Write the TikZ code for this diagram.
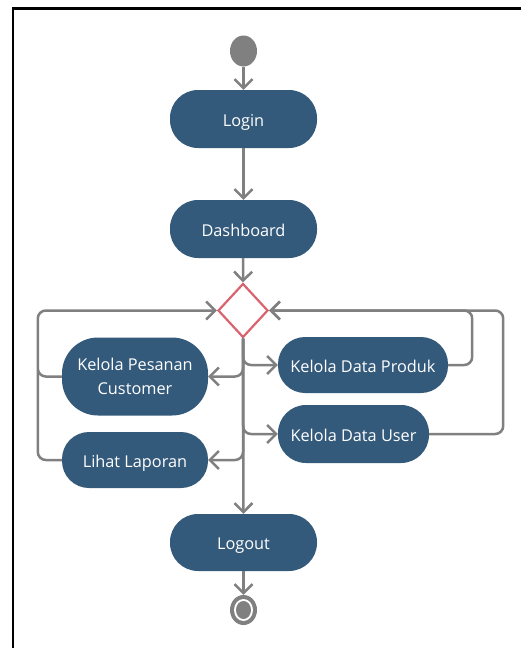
\documentclass[tikz,border=0pt]{standalone}
\usepackage{fontspec}
\setmainfont{Open Sans}
\usetikzlibrary{arrows.meta,shapes.geometric}
\definecolor{nodeblue}{HTML}{345A7B}
\definecolor{linegray}{HTML}{808080}
\definecolor{diared}{HTML}{D9636E}
\begin{document}
\begin{tikzpicture}[x=1pt,y=-1pt,
  act/.style={rectangle, fill=nodeblue, draw=none, text=white, font=\fontsize{16.3}{24.5}\selectfont, align=center, inner sep=0pt},
  oneline/.style={text height=14pt, text depth=0pt},
  conn/.style={draw=linegray, line width=2.5pt, -{Straight Barb[length=9pt,width=18pt,line width=2.5pt]}},
  plain/.style={draw=linegray, line width=2.5pt},
]
\useasboundingbox (0,0) rectangle (521,648);
\fill[white] (0,0) rectangle (521,648);
\draw[black, line width=2.6pt] (12.8,648) -- (12.8,8.7) -- (521,8.7);

\node[ellipse, fill=linegray, minimum width=27pt, minimum height=31pt, inner sep=0pt] (start) at (243.5,51) {};
\node[act, oneline, minimum width=147pt, minimum height=58pt, rounded corners=28pt] (login) at (243.5,119) {Login};
\node[act, oneline, minimum width=147pt, minimum height=58pt, rounded corners=28pt] (dash) at (243.5,229) {Dashboard};
\node[diamond, draw=diared, fill=white, line width=2.2pt, minimum width=50pt, minimum height=54pt, inner sep=0pt] (dia) at (243,310.5) {};
\node[act, minimum width=146pt, minimum height=78pt, rounded corners=36pt] (pes) at (135,376.5) {Kelola Pesanan\\Customer};
\node[act, oneline, minimum width=146pt, minimum height=56pt, rounded corners=27pt] (lap) at (135,460) {Lihat Laporan};
\node[act, oneline, minimum width=170pt, minimum height=56pt, rounded corners=27pt] (prod) at (363,365) {Kelola Data Produk};
\node[act, oneline, minimum width=151pt, minimum height=58pt, rounded corners=28pt] (user) at (353.5,434) {Kelola Data User};
\node[act, oneline, minimum width=147pt, minimum height=57pt, rounded corners=28pt] (logout) at (243.5,542.5) {Logout};
\node[ellipse, fill=linegray, minimum width=27pt, minimum height=30pt, inner sep=0pt] (endn) at (243.5,610) {};
\fill[white] (endn.center) ellipse [x radius=9.5pt, y radius=11pt];
\fill[linegray] (endn.center) ellipse [x radius=7.5pt, y radius=9pt];

\draw[conn] (start) -- (login);
\draw[conn] (login) -- (dash);
\draw[conn] (dash) -- (dia.north);
\draw[conn] (dia.south) -- (logout.north);
\draw[conn] (logout) -- (endn);

\draw[conn, rounded corners=8pt] (dia.south) |- (pes.east);
\draw[conn, rounded corners=8pt] (dia.south) |- (lap.east);
\draw[conn, rounded corners=8pt] (dia.south) |- (prod.west);
\draw[conn, rounded corners=8pt] (dia.south) |- (user.west);

\draw[conn, rounded corners=8pt] (pes.west) -- ++(-24,0) |- (dia.west);
\draw[plain, rounded corners=8pt] (lap.west) -- ++(-24,0) -- ++(0,-90);
\draw[conn, rounded corners=8pt] (prod.east) -- ++(24,0) |- (dia.east);
\draw[conn, rounded corners=8pt] (user.east) -- ++(74,0) |- (dia.east);
\end{tikzpicture}
\end{document}
